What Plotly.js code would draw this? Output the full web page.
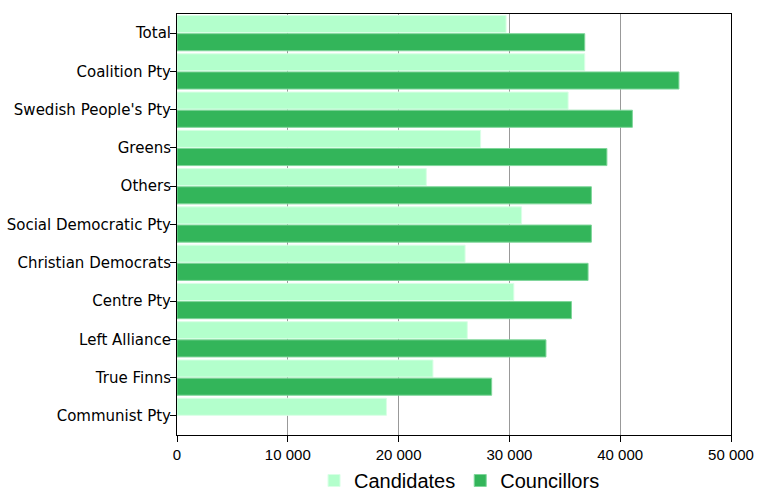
<!DOCTYPE html>
<html>
<head>
<meta charset="utf-8">
<script src="https://cdn.plot.ly/plotly-3.0.1.min.js"></script>
<style>html,body{margin:0;padding:0;background:#fff;}#chart{width:760px;height:500px;}</style>
</head>
<body>
<div id="chart"></div>
<script>
const categories = ["Total","Coalition Pty","Swedish People's Pty","Greens","Others","Social Democratic Pty","Christian Democrats","Centre Pty","Left Alliance","True Finns","Communist Pty"];
const candidates = [29700,36800,35300,27400,22500,31100,26000,30400,26200,23100,18900];
const councillors = [36800,45300,41100,38800,37400,37400,37100,35600,33300,28400,null];
const xTicks = [0,10000,20000,30000,40000,50000];

const data = [
  {type:"bar", orientation:"h", name:"Candidates", y:categories, x:candidates,
   marker:{color:"#b3ffcc", line:{color:"#d9ffe6", width:1}}},
  {type:"bar", orientation:"h", name:"Councillors", y:categories, x:councillors,
   marker:{color:"#33b55a", line:{color:"#7fd69a", width:1}}}
];

const layout = {
  width:760, height:500,
  margin:{l:177, r:29, t:14, b:65},
  paper_bgcolor:"#fff", plot_bgcolor:"#fff",
  font:{family:"Liberation Sans, Arial, sans-serif", size:13, color:"#000"},
  separators: ". ",
  barmode:"group", bargap:0.05, bargroupgap:0.06,
  showlegend:true,
  legend:{orientation:"h", x:0.51, xanchor:"center", xref:"paper",
          y:-0.036, yanchor:"bottom", yref:"container",
          font:{family:"Liberation Sans, Arial, sans-serif", size:20, color:"#000"},
          itemwidth:30, tracegroupgap:0},
  xaxis:{range:[0,50000], tickvals:xTicks, ticktext:xTicks.map(v=>v===0?"0":(v/1000)+" 000"),
         tickfont:{family:"Liberation Sans, Arial, sans-serif", size:15, color:"#000"},
         showgrid:true, gridcolor:"#999", gridwidth:1, zeroline:false,
         showline:true, linecolor:"#000", linewidth:1, mirror:true,
         ticks:"outside", ticklen:6, tickcolor:"#000", fixedrange:true},
  yaxis:{type:"category", autorange:"reversed", showgrid:false, zeroline:false,
         tickfont:{family:"DejaVu Sans, sans-serif", size:15, color:"#000"},
         showline:true, linecolor:"#000", linewidth:1, mirror:true,
         ticks:"outside", ticklen:6, tickcolor:"#000", ticklabelstandoff:-4, fixedrange:true}
};

Plotly.newPlot("chart", data, layout, {displayModeBar:false, staticPlot:true});
</script>
</body>
</html>
